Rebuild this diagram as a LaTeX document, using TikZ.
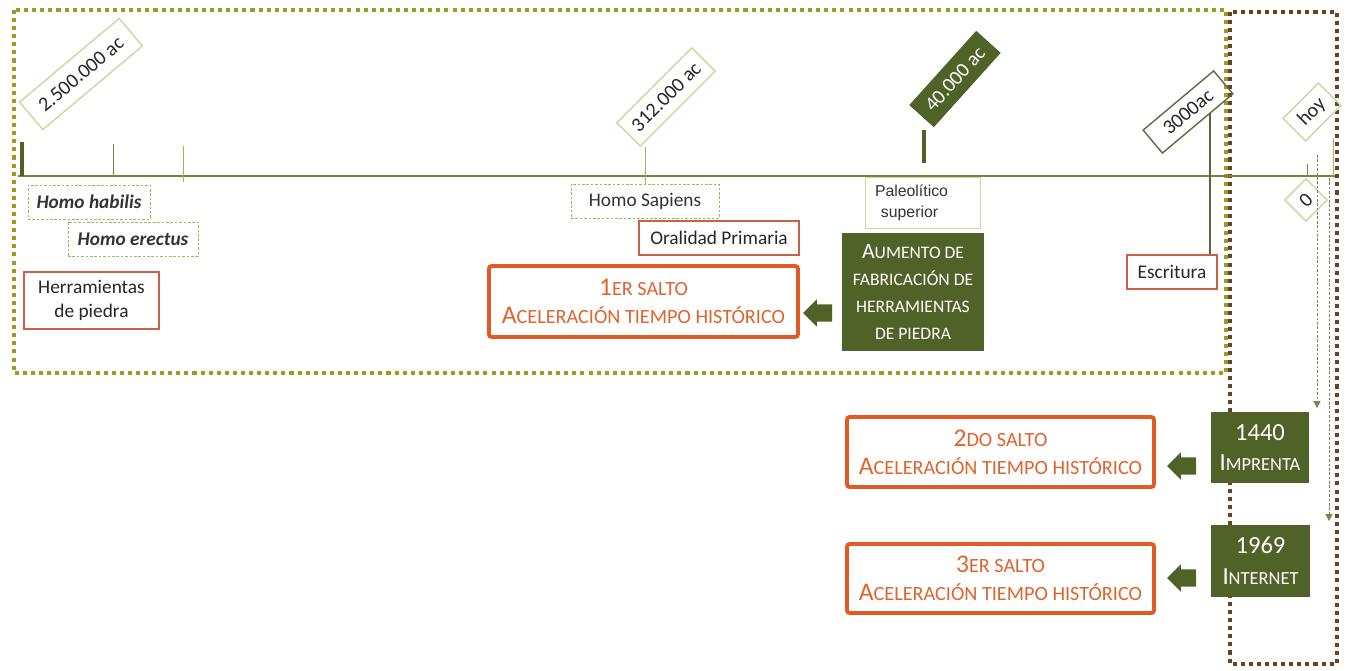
\documentclass[tikz,border=0pt]{standalone}
\usepackage{fontspec}
\setmainfont{Carlito}
\newfontfamily\arialfont{Liberation Sans}
\usetikzlibrary{arrows.meta, shapes.arrows}

\definecolor{olivedark}{RGB}{79,98,40}
\definecolor{olivegold}{RGB}{158,155,36}
\definecolor{brownframe}{RGB}{105,66,34}
\definecolor{lightgreen}{RGB}{155,187,89}
\definecolor{paleolive}{RGB}{200,216,160}
\definecolor{orangebox}{RGB}{228,90,36}
\definecolor{orangetext}{RGB}{222,100,45}
\definecolor{redline}{RGB}{205,95,70}
\definecolor{lineolive}{RGB}{118,135,60}

\newcommand{\smc}[1]{{\fontsize{11.5}{13}\selectfont #1}}
\newcommand{\bigc}[1]{{\fontsize{14.5}{16}\selectfont #1}}

\tikzset{
  especie/.style={
    rectangle, draw=lightgreen, dash pattern=on 1.5pt off 1pt, line width=0.5pt,
    minimum height=0.68cm, inner sep=2pt, font=\fontsize{11}{13}\selectfont, text=black!80
  },
  hito/.style={
    rectangle, draw=redline, line width=0.7pt, minimum height=0.68cm,
    font=\fontsize{11}{14}\selectfont, text=black!85, align=center
  },
  salto/.style={
    rectangle, rounded corners=1.5pt, draw=orangebox, line width=2.2pt,
    minimum width=6.14cm, minimum height=1.4cm, text=orangetext, align=center,
    font=\fontsize{11.5}{16}\selectfont
  },
  evento/.style={
    rectangle, fill=olivedark, text=white, align=center, inner sep=2pt
  },
  fecha/.style={
    rectangle, draw=paleolive, line width=0.8pt, inner sep=1pt,
    font=\fontsize{11.5}{13}\selectfont, text=black!85
  },
  flecha/.style={
    single arrow, fill=olivedark, shape border rotate=180, minimum height=0.58cm,
    inner xsep=0pt, inner ysep=0.165cm, single arrow head extend=0.1cm
  },
  marca/.style={draw=lineolive, line width=0.5pt},
  barra/.style={draw=olivedark, line width=2.6pt},
  punteado/.style={
    draw=lineolive!70!gray, line width=0.5pt, dash pattern=on 1.5pt off 1pt,
    -{Triangle[length=4pt,width=4pt]}
  }
}

\begin{document}
\begin{tikzpicture}[x=0.02cm, y=-0.02cm]
    \useasboundingbox (0,0) rectangle (1352,671);

    % Marcos punteados
    \draw[brownframe, line width=2.3pt, dash pattern=on 2.3pt off 2.3pt] (1230,12) rectangle (1337,664);
    \draw[olivegold, line width=2.3pt, dash pattern=on 2.3pt off 2.3pt] (14,10) rectangle (1226,373);

    % Linea de tiempo
    \draw[lineolive, line width=0.8pt] (18,176) -- (1335,176);
    \draw[barra] (22,142) -- (22,176);
    \draw[marca] (113,144) -- (113,176);
    \draw[marca, draw=lightgreen] (183,146) -- (183,182);
    \draw[barra] (924,130) -- (924,163);
    \draw[marca] (1307,164) -- (1307,176);
    \draw[marca, draw=lightgreen] (1333,138) -- (1333,176);

    % Fechas (rotadas)
    \node[fecha, rotate=40, minimum width=2.6cm, minimum height=0.72cm] (f2500) at (81,74) {2.500.000 ac};
    \node[fecha, rotate=45, minimum width=2.12cm, minimum height=0.66cm] (f312) at (666,97) {312.000 ac};
    \node[fecha, rotate=48, minimum width=2.0cm, minimum height=0.66cm, draw=none, fill=olivedark, text=white] (f40) at (955,79) {40.000 ac};
    \node[fecha, rotate=40, minimum width=1.84cm, minimum height=0.6cm, draw=olivedark!70!gray] (f3000) at (1188,112) {3000ac};
    \node[fecha, rotate=45, minimum width=1.0cm, minimum height=0.64cm] (hoy) at (1312,112) {hoy};
    \node[fecha, rotate=45, minimum width=0.6cm, minimum height=0.6cm] (cero) at (1306,200) {0};

    % Especies
    \node[especie, minimum width=2.44cm, font=\fontsize{11}{13}\selectfont\bfseries\itshape] (habilis) at (89,202) {Homo habilis};
    \node[especie, minimum width=2.6cm, font=\fontsize{11}{13}\selectfont\bfseries\itshape] (erectus) at (133,239) {Homo erectus};
    \node[especie, minimum width=2.96cm] (sapiens) at (645,201) {Homo Sapiens};
    \node[rectangle, draw=paleolive, line width=0.5pt, minimum width=2.3cm, minimum height=1.02cm,
          text width=1.9cm, align=left, font=\arialfont\fontsize{9}{12}\selectfont, text=black!80] (paleo) at (922.5,202.5)
      {Paleolítico\\\hspace*{3.4pt}superior};

    % Hitos
    \node[hito, minimum width=2.7cm, minimum height=1.14cm] (herr) at (91.5,300.5) {Herramientas\\de piedra};
    \node[hito, minimum width=3.2cm] (oral) at (719,238) {Oralidad Primaria};
    \node[hito, minimum width=1.8cm] (escr) at (1172,272) {Escritura};

    % Eventos
    \node[evento, minimum width=2.84cm, minimum height=2.36cm, font=\fontsize{10}{15.4}\selectfont] (aum) at (913,292)
      {{\fontsize{12.5}{14}\selectfont A}UMENTO DE\\FABRICACIÓN DE\\HERRAMIENTAS\\DE PIEDRA};
    \node[evento, minimum width=1.96cm, minimum height=1.42cm, font=\fontsize{14}{17.6}\selectfont] (impr) at (1260,447.5)
      {1440\\I{\fontsize{10.5}{12}\selectfont MPRENTA}};
    \node[evento, minimum width=1.98cm, minimum height=1.44cm, font=\fontsize{14}{17.6}\selectfont] (inet) at (1260.5,561)
      {1969\\I{\fontsize{10.5}{12}\selectfont NTERNET}};

    % Saltos
    \node[salto, minimum width=6.18cm, minimum height=1.42cm] (salto1) at (643.5,301.5)
      {\bigc{1}\smc{ER SALTO}\\\bigc{A}\smc{CELERACIÓN TIEMPO HISTÓRICO}};
    \node[salto] (salto2) at (1000.5,452)
      {\bigc{2}\smc{DO SALTO}\\\bigc{A}\smc{CELERACIÓN TIEMPO HISTÓRICO}};
    \node[salto, minimum height=1.38cm] (salto3) at (1000.5,578.5)
      {\bigc{3}\smc{ER SALTO}\\\bigc{A}\smc{CELERACIÓN TIEMPO HISTÓRICO}};

    % Flechas
    \node[flecha] (fl1) at (822,313) {};
    \node[flecha] (fl2) at (1186,466) {};
    \node[flecha] (fl3) at (1186,578) {};

    % Conectores
    \draw[marca, draw=lightgreen] (sapiens.north) -- (sapiens.north |- f312.south west);
    \coordinate (c3000) at (1210,113);
    \draw[marca, draw=olivedark!80!gray, line width=0.7pt] (c3000) -- (c3000 |- escr.north);
    \coordinate (d1) at (1317,155);
    \coordinate (d2) at (1329,178);
    \draw[punteado] (d1) -- ([yshift=2pt]d1 |- impr.north);
    \draw[punteado] (d2) -- ([yshift=2pt]d2 |- inet.north);
\end{tikzpicture}
\end{document}
